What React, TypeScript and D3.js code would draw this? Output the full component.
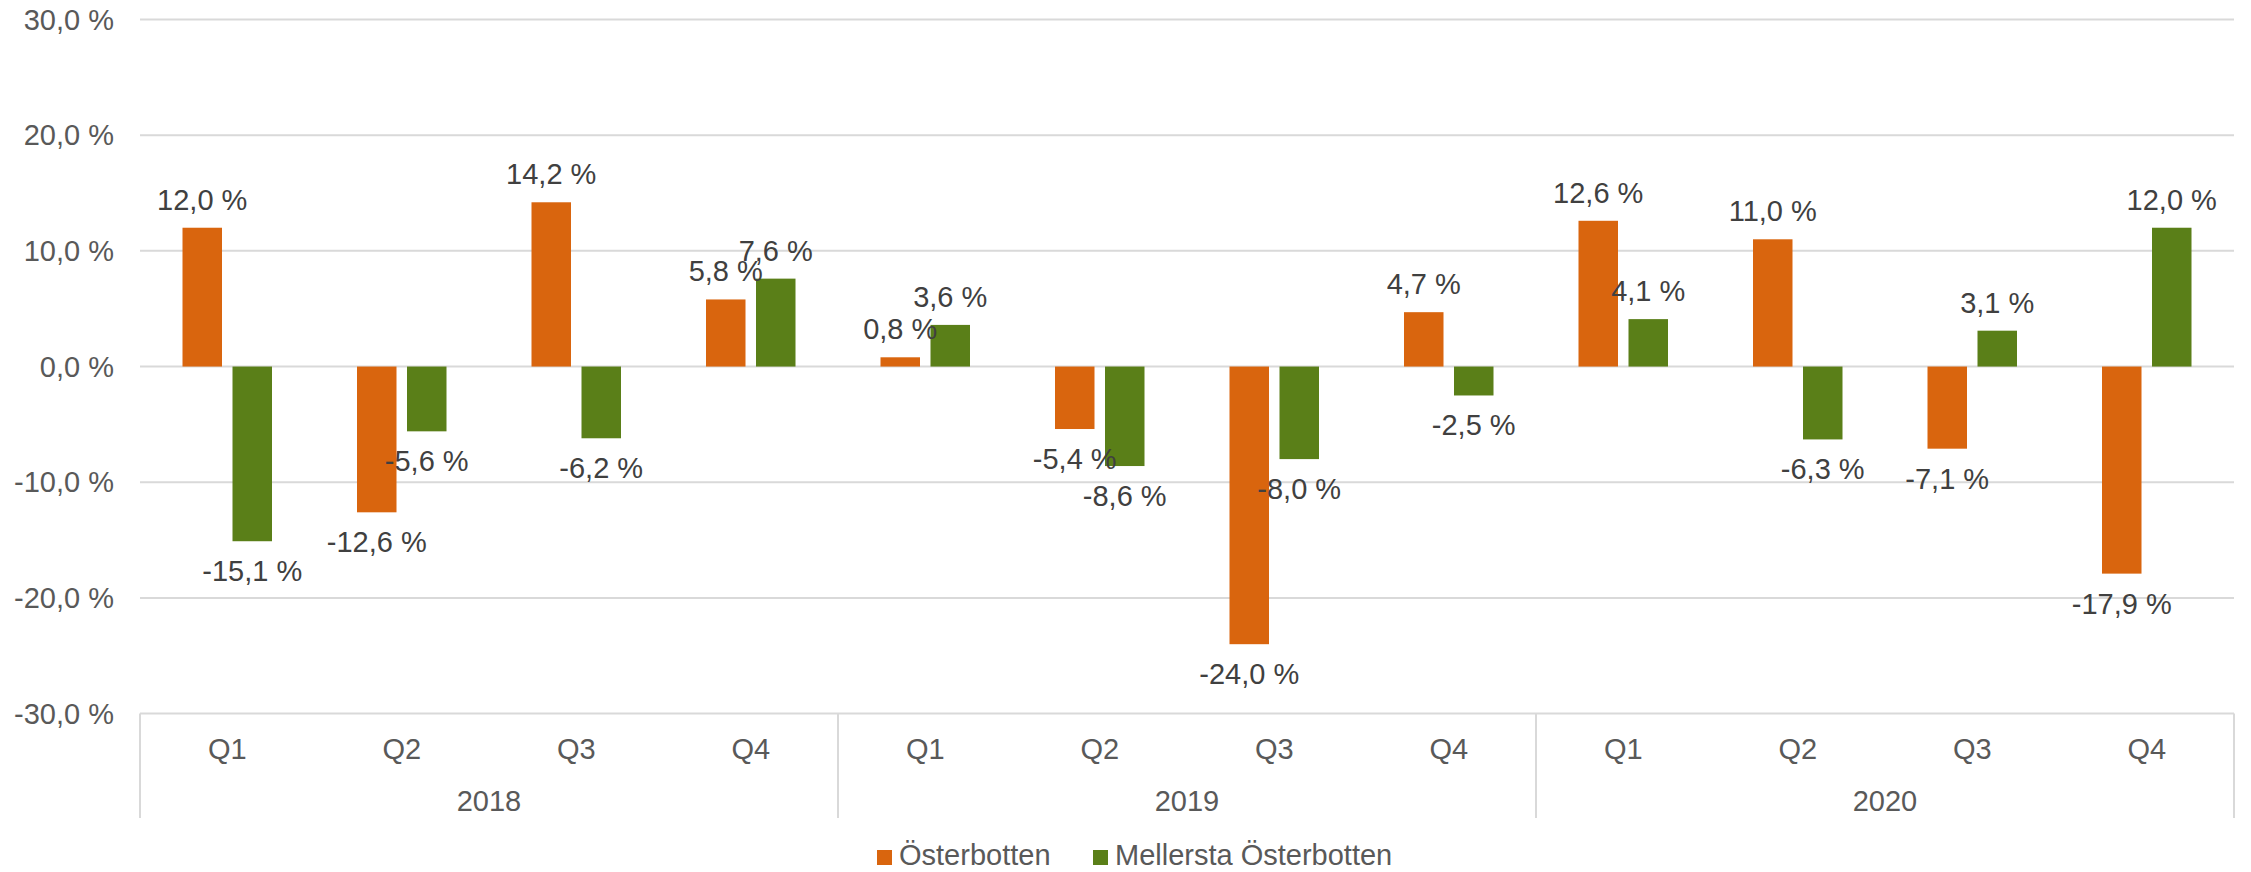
import React, { useEffect } from "react";
import * as d3 from "d3";

const years = ["2018", "2019", "2020"];
const quarters = ["Q1", "Q2", "Q3", "Q4"];
const seriesNames = ["Österbotten", "Mellersta Österbotten"];
const osterbotten = [12.0, -12.6, 14.2, 5.8, 0.8, -5.4, -24.0, 4.7, 12.6, 11.0, -7.1, -17.9];
const mellersta = [-15.1, -5.6, -6.2, 7.6, 3.6, -8.6, -8.0, -2.5, 4.1, -6.3, 3.1, 12.0];
const yTicks = [-30, -20, -10, 0, 10, 20, 30];

const colors = ["#D9650E", "#5A7F18"];
const W = 2251;
const H = 872;
const FONT = "'Liberation Sans', Arial, sans-serif";

const fmt = (v: number) => v.toFixed(1).replace(".", ",") + " %";

export default function App() {
  useEffect(() => {
    document.body.style.margin = "0";
  }, []);

  const keys = years.flatMap((y) => quarters.map((q) => `${y}-${q}`));
  const x = d3.scaleBand<string>().domain(keys).range([140, 2234]).padding(0);
  const bw = x.bandwidth();
  const groupW = 89.5;
  const x1 = d3
    .scaleBand<number>()
    .domain([0, 1])
    .range([(bw - groupW) / 2, (bw + groupW) / 2])
    .paddingInner(0.21)
    .paddingOuter(0);
  const y = d3.scaleLinear().domain([-30, 30]).range([713.6, 19.5]);

  const data = [osterbotten, mellersta];
  const gridColor = "#D9D9D9";

  const yearStart = (i: number) => x(keys[i * 4]) as number;
  const dividers = [0, 1, 2].map(yearStart).concat([x.range()[1]]);

  // legend layout
  const legendItems = [
    { sq: 877, tx: 899 },
    { sq: 1093, tx: 1115 },
  ];

  return (
    <svg
      width={W}
      height={H}
      style={{ position: "absolute", left: 0, top: 0, background: "#fff" }}
      fontFamily={FONT}
    >
      <rect width={W} height={H} fill="#fff" />
      {yTicks.map((t) => (
        <g key={t}>
          <line x1={140} x2={2234} y1={y(t)} y2={y(t)} stroke={gridColor} strokeWidth={2} />
          <text x={114} y={y(t) + 10} textAnchor="end" fontSize={29} fill="#595959">
            {fmt(t)}
          </text>
        </g>
      ))}
      {dividers.map((d, i) => (
        <line key={i} x1={d} x2={d} y1={y(-30)} y2={818} stroke={gridColor} strokeWidth={2} />
      ))}
      {keys.map((k, i) => (
        <text
          key={k}
          x={(x(k) as number) + bw / 2}
          y={759}
          textAnchor="middle"
          fontSize={29}
          fill="#595959"
        >
          {quarters[i % 4]}
        </text>
      ))}
      {years.map((yr, i) => (
        <text
          key={yr}
          x={(dividers[i] + dividers[i + 1]) / 2}
          y={811}
          textAnchor="middle"
          fontSize={29}
          fill="#595959"
        >
          {yr}
        </text>
      ))}
      {data.map((vals, s) =>
        vals.map((v, i) => {
          const bx = (x(keys[i]) as number) + (x1(s) as number);
          const top = Math.min(y(v), y(0));
          const h = Math.abs(y(v) - y(0));
          return (
            <rect key={`${s}-${i}`} x={bx} y={top} width={x1.bandwidth()} height={h} fill={colors[s]} />
          );
        })
      )}
      {data.map((vals, s) =>
        vals.map((v, i) => {
          const cx = (x(keys[i]) as number) + (x1(s) as number) + x1.bandwidth() / 2;
          const ly = v >= 0 ? y(v) - 18 : y(v) + 40;
          return (
            <text key={`l${s}-${i}`} x={cx} y={ly} textAnchor="middle" fontSize={29} fill="#404040">
              {fmt(v)}
            </text>
          );
        })
      )}
      {seriesNames.map((n, i) => (
        <g key={n}>
          <rect x={legendItems[i].sq} y={850} width={15} height={15} fill={colors[i]} />
          <text x={legendItems[i].tx} y={865} fontSize={29} fill="#595959">
            {n}
          </text>
        </g>
      ))}
    </svg>
  );
}
